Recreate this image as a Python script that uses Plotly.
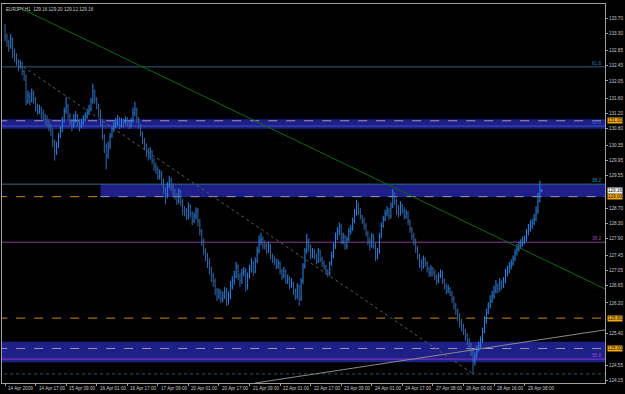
import plotly.graph_objects as go

# ---------------- data ----------------
symbol_text = "EURJPY,H1  129.16 129.20 129.12 129.16"
open_first = 133.40
closes = [
 133.23,133.09,132.96,133.15,132.83,132.70,
 132.57,132.44,132.52,132.30,132.17,
 131.52,131.65,131.52,131.73,131.57,131.38,
 131.25,131.30,131.20,131.12,131.04,
 130.99,130.86,130.73,130.46,130.20,
 130.33,130.60,130.73,130.99,131.25,
 131.38,131.12,130.99,130.86,131.04,
 131.12,130.99,130.86,130.94,131.04,
 131.12,131.20,131.30,131.52,131.78,131.57,
 131.38,131.25,130.99,130.60,130.33,
 130.07,130.33,130.60,130.78,130.86,
 130.94,131.04,130.86,130.99,130.94,
 131.04,130.94,130.86,130.99,131.20,
 131.30,131.04,130.86,130.67,130.46,
 130.33,130.20,130.07,130.20,129.94,129.80,
 129.73,129.54,129.62,129.41,129.20,
 129.02,129.28,129.41,129.28,129.15,
 129.02,128.88,129.15,128.88,128.62,
 128.62,128.49,128.75,128.56,128.36,
 128.49,128.62,128.36,128.09,127.83,127.57,
 127.44,127.25,127.10,126.91,126.78,
 126.52,126.38,126.46,126.31,126.38,
 126.52,126.25,126.38,126.65,126.78,126.91,
 127.17,126.91,126.78,126.99,
 127.04,126.65,126.91,127.10,127.25,127.04,
 127.30,127.57,127.83,127.88,127.70,
 127.70,127.57,127.70,127.44,127.36,
 127.30,127.17,127.25,127.04,126.91,
 127.04,126.78,126.83,126.65,126.73,
 126.52,126.38,126.65,126.31,126.78,127.17,
 127.57,127.83,127.70,127.44,127.57,
 127.44,127.30,127.57,127.36,127.25,
 127.17,127.04,126.99,127.25,127.44,
 127.70,127.96,128.09,128.23,127.83,
 127.96,127.70,127.88,128.09,128.15,
 128.36,128.56,128.75,128.62,128.49,128.36,
 128.23,128.04,127.83,127.70,127.96,
 127.70,127.44,127.57,127.96,128.23,
 128.41,128.56,128.62,128.49,128.75,
 129.02,128.88,128.62,128.56,128.75,
 128.62,128.49,128.56,128.36,128.15,
 127.96,127.83,127.62,127.44,127.25,
 127.17,127.36,127.25,127.10,126.99,
 127.10,126.99,126.91,126.78,126.91,126.99,
 126.78,126.65,126.52,126.57,126.46,
 126.31,126.12,125.99,125.86,125.67,
 125.59,125.46,125.33,125.20,125.07,124.94,
 124.67,124.80,124.99,125.07,125.20,
 125.46,125.73,125.94,126.12,126.25,126.38,
 126.52,126.65,126.57,126.73,126.65,
 126.78,126.99,127.04,127.17,127.25,
 127.36,127.52,127.62,127.70,127.75,127.83,
 127.88,128.04,128.15,128.23,128.30,
 128.41,128.62,128.88,129.16,
 129.16,
]
highs = [
 133.55,133.30,133.12,133.28,133.20,132.90,
 132.78,132.62,132.60,132.55,132.35,
 132.22,131.80,131.75,131.85,131.80,131.62,
 131.45,131.42,131.38,131.30,131.20,
 131.15,131.05,130.92,130.80,130.50,
 130.45,130.68,130.85,131.10,131.35,
 131.62,131.45,131.20,131.05,131.18,
 131.25,131.18,131.05,131.05,131.15,
 131.22,131.32,131.42,131.60,131.98,131.82,
 131.62,131.45,131.30,131.05,130.65,
 130.40,130.45,130.68,130.85,130.98,
 131.08,131.15,131.10,131.08,131.05,
 131.12,131.10,131.00,131.08,131.35,
 131.50,131.35,131.10,130.92,130.72,
 130.55,130.40,130.28,130.30,130.22,130.02,
 129.90,129.80,129.72,129.68,129.48,
 129.25,129.38,129.55,129.50,129.35,
 129.20,129.10,129.22,129.18,128.95,
 128.75,128.70,128.85,128.80,128.62,
 128.58,128.72,128.70,128.42,128.15,127.90,
 127.65,127.52,127.38,127.15,127.00,
 126.85,126.60,126.58,126.55,126.50,
 126.62,126.60,126.50,126.78,126.90,127.05,
 127.28,127.22,126.98,127.10,
 127.15,127.12,127.00,127.20,127.38,127.30,
 127.40,127.68,127.98,128.05,127.95,
 127.85,127.78,127.82,127.75,127.50,
 127.45,127.38,127.35,127.30,127.10,
 127.15,127.08,126.95,126.90,126.85,
 126.75,126.58,126.72,126.68,126.85,127.25,
 127.65,128.02,127.90,127.75,127.65,
 127.62,127.50,127.65,127.60,127.42,
 127.32,127.20,127.10,127.30,127.55,
 127.78,128.05,128.20,128.32,128.28,
 128.05,128.00,127.95,128.18,128.25,
 128.45,128.68,128.92,128.85,128.70,128.52,
 128.45,128.30,128.10,127.92,128.05,
 128.02,127.78,127.65,128.05,128.32,
 128.50,128.65,128.75,128.70,128.85,
 129.20,129.12,128.95,128.78,128.88,
 128.82,128.72,128.66,128.62,128.40,
 128.20,128.05,127.90,127.70,127.50,
 127.35,127.45,127.40,127.30,127.15,
 127.20,127.15,127.08,126.95,127.00,127.08,
 127.05,126.85,126.72,126.68,126.62,
 126.52,126.38,126.20,126.05,125.92,
 125.78,125.65,125.52,125.40,125.28,125.15,
 124.98,124.90,125.08,125.18,125.32,
 125.55,125.85,126.05,126.22,126.40,126.52,
 126.65,126.80,126.72,126.85,126.80,
 126.88,127.10,127.18,127.28,127.35,
 127.45,127.62,127.75,127.82,127.88,127.95,
 127.98,128.15,128.28,128.38,128.42,
 128.55,128.75,129.10,129.42,
 129.20,
]
lows = [
 133.10,132.95,132.82,132.90,132.65,132.55,
 132.45,132.30,132.38,132.20,132.05,
 131.40,131.45,131.40,131.48,131.45,131.25,
 131.15,131.18,131.05,131.00,130.90,
 130.85,130.72,130.60,130.30,129.95,
 130.10,130.28,130.55,130.70,130.95,
 131.18,131.00,130.88,130.72,130.82,
 130.95,130.85,130.72,130.80,130.88,
 130.98,131.05,131.15,131.25,131.45,131.45,
 131.30,131.10,130.85,130.50,130.15,
 129.72,130.00,130.25,130.55,130.70,
 130.80,130.88,130.78,130.82,130.82,
 130.90,130.85,130.78,130.82,130.95,
 131.12,130.95,130.78,130.58,130.38,
 130.22,130.05,129.95,129.98,129.85,129.68,
 129.60,129.45,129.45,129.30,129.08,
 128.80,128.95,129.22,129.15,129.02,
 128.92,128.78,128.82,128.75,128.52,
 128.48,128.38,128.40,128.45,128.25,
 128.30,128.40,128.22,127.98,127.70,127.45,
 127.30,127.12,126.95,126.75,126.62,
 126.40,126.25,126.30,126.20,126.22,
 126.30,126.12,126.15,126.30,126.55,126.68,
 126.85,126.80,126.62,126.70,
 126.90,126.50,126.55,126.85,127.00,126.92,
 126.98,127.25,127.50,127.72,127.62,
 127.60,127.48,127.52,127.35,127.25,
 127.20,127.08,127.10,126.95,126.80,
 126.85,126.70,126.70,126.55,126.60,
 126.40,126.28,126.30,126.12,126.25,126.70,
 127.10,127.50,127.55,127.35,127.38,
 127.35,127.22,127.25,127.28,127.15,
 127.08,126.95,126.88,126.92,127.18,
 127.38,127.62,127.85,127.98,127.75,
 127.75,127.60,127.62,127.82,128.00,
 128.10,128.30,128.50,128.52,128.40,128.28,
 128.12,127.95,127.72,127.58,127.65,
 127.62,127.30,127.35,127.50,127.90,
 128.18,128.35,128.48,128.38,128.42,
 128.70,128.78,128.52,128.45,128.50,
 128.55,128.40,128.42,128.25,128.05,
 127.85,127.72,127.52,127.35,127.12,
 127.05,127.10,127.15,127.00,126.88,
 126.90,126.90,126.80,126.68,126.72,126.85,
 126.70,126.55,126.42,126.45,126.38,
 126.20,126.02,125.88,125.72,125.55,
 125.45,125.35,125.20,125.08,124.95,124.80,
 124.33,124.55,124.75,124.92,125.00,
 125.15,125.40,125.65,125.90,126.05,126.20,
 126.30,126.45,126.45,126.50,126.55,
 126.60,126.72,126.90,126.98,127.08,
 127.18,127.30,127.45,127.55,127.62,127.68,
 127.75,127.82,127.98,128.08,128.15,
 128.25,128.35,128.55,128.85,
 129.12,
]
date_labels = ["14 Apr 2009","14 Apr 17:00","15 Apr 09:00","16 Apr 01:00","16 Apr 17:00",
               "17 Apr 09:00","20 Apr 01:00","20 Apr 17:00","21 Apr 09:00","22 Apr 01:00",
               "22 Apr 17:00","23 Apr 09:00","24 Apr 01:00","24 Apr 17:00","27 Apr 08:00",
               "28 Apr 00:00","28 Apr 16:00","29 Apr 08:00"]
label_step = 16
price_ticks = [133.70,133.30,132.85,132.45,132.05,131.60,131.20,130.80,130.35,129.95,129.55,
               128.70,128.30,127.90,127.45,127.05,126.65,126.20,125.40,124.55,124.15]
orange_levels = [131.00, 129.00, 125.80, 125.00]
current_price = 129.16
fib_names = ["61.8", "50.0", "38.2", "38.2", "50.0"]
fib_prices = [132.42, 130.86, 129.33, 127.80, 124.72]
band_tops = [131.04, 129.33, 125.18]
band_bottoms = [130.79, 128.99, 124.64]
band_starts = [None, 50, None]
green_line = [(7.9, 133.97), (314.1, 126.57)]
dotted_line = [(9.6, 132.42), (245.0, 124.33)]
grey_line = [(130.9, 124.09), (314.1, 125.49)]
low_level = 124.33

# ---------------- figure ----------------
n = len(closes)
xs = list(range(n))
opens = [open_first] + closes[:-1]
hi = [max(h, o, c) for h, o, c in zip(highs, opens, closes)]
lo = [min(l, o, c) for l, o, c in zip(lows, opens, closes)]

X0, X1 = -1.57, 314.1
Y0, Y1 = 124.09, 134.077

fig = go.Figure()
shapes = []
for top, bot, xs0 in zip(band_tops, band_bottoms, band_starts):
    shapes.append(dict(type="rect", xref="x", yref="y", x0=X0 - 2 if xs0 is None else xs0, x1=X1 + 2,
                       y0=bot, y1=top, fillcolor="#1f1f88", line=dict(width=0), layer="below"))

def hline(y, color, dash="solid", x0=X0 - 2, x1=X1 + 2, w=1):
    shapes.append(dict(type="line", xref="x", yref="y", x0=x0, x1=x1, y0=y, y1=y,
                       line=dict(color=color, width=w, dash=dash), layer="below"))

fib_line_colors = ["#2e5f7e", "#3a52c0", "#2e6f8e", "#8a3a9a", "#8a3acc"]
fib_text_colors = ["#2e7fae", "#3a62d0", "#2e8fae", "#a04ab0", "#a050e0"]
for p, c in zip(fib_prices, fib_line_colors):
    hline(p, c)
hline(low_level, "#1e5f6e", dash="dot")
hline(131.00, "#9a98c0", dash="dash")
hline(129.00, "#c88a20", dash="dash", x1=50)
hline(129.00, "#9a98c0", dash="dash", x0=50)
hline(125.80, "#c88a20", dash="dash")
hline(125.00, "#9a98c0", dash="dash")

fig.add_trace(go.Scatter(x=[p[0] for p in green_line], y=[p[1] for p in green_line], mode="lines",
                         line=dict(color="#0b6a0b", width=1), hoverinfo="skip", showlegend=False))
fig.add_trace(go.Scatter(x=[p[0] for p in dotted_line], y=[p[1] for p in dotted_line], mode="lines",
                         line=dict(color="#5a5a5a", width=1, dash="dot"), hoverinfo="skip", showlegend=False))
fig.add_trace(go.Scatter(x=[p[0] for p in grey_line], y=[p[1] for p in grey_line], mode="lines",
                         line=dict(color="#8a8a8a", width=1), hoverinfo="skip", showlegend=False))

fig.add_trace(go.Ohlc(x=xs, open=opens, high=hi, low=lo, close=closes,
                      increasing=dict(line=dict(color="#2a86ec", width=1)),
                      decreasing=dict(line=dict(color="#3566a6", width=1)),
                      tickwidth=0.3, hoverinfo="skip", showlegend=False))

ann = []
font_small = dict(family="Liberation Sans", size=4.6, color="#c8c8c8")
for k, lab in enumerate(date_labels):
    ann.append(dict(x=k * label_step, y=0, xref="x", yref="paper", text=lab, showarrow=False,
                    xanchor="left", yanchor="top", yshift=-1, xshift=1, font=font_small))
for lvl in orange_levels:
    ann.append(dict(x=1, y=lvl, xref="paper", yref="y", text=f"{lvl:.2f}", showarrow=False,
                    xanchor="left", yanchor="middle", xshift=2, bgcolor="#f0a810", borderpad=0,
                    font=dict(family="Liberation Sans", size=4.6, color="#101010")))
ann.append(dict(x=1, y=current_price, xref="paper", yref="y", text=f"{current_price:.2f}", showarrow=False,
                xanchor="left", yanchor="middle", xshift=2, bgcolor="#f0f0f0", borderpad=0,
                font=dict(family="Liberation Sans", size=4.6, color="#101010")))
for name, lvl, col in zip(fib_names, fib_prices, fib_text_colors):
    ann.append(dict(x=1, y=lvl, xref="paper", yref="y", text=name, showarrow=False,
                    xanchor="right", yanchor="bottom", xshift=-2, yshift=-1,
                    font=dict(family="Liberation Sans", size=4.6, color=col)))
ann.append(dict(x=0, y=1, xref="paper", yref="paper", text=symbol_text, showarrow=False,
                xanchor="left", yanchor="top", xshift=2, yshift=-1, font=font_small))

fig.update_layout(
    width=625, height=394, margin=dict(l=2, r=20, t=4, b=11),
    paper_bgcolor="#000000", plot_bgcolor="#000000",
    shapes=shapes, annotations=ann, showlegend=False,
    xaxis=dict(range=[X0, X1], showgrid=False, zeroline=False, rangeslider=dict(visible=False),
               tickvals=[k * label_step for k in range(len(date_labels))], showticklabels=False,
               ticks="outside", ticklen=2, tickcolor="#a0a0a0",
               showline=True, linecolor="#a0a0a0", linewidth=1, mirror=True),
    yaxis=dict(range=[Y0, Y1], side="right", showgrid=False, zeroline=False,
               tickvals=price_ticks, ticktext=[f"{v:.2f}" for v in price_ticks],
               tickfont=font_small, ticks="outside", ticklen=2, tickcolor="#a0a0a0",
               showline=True, linecolor="#a0a0a0", linewidth=1, mirror=True),
)
fig.write_html("out.html")
